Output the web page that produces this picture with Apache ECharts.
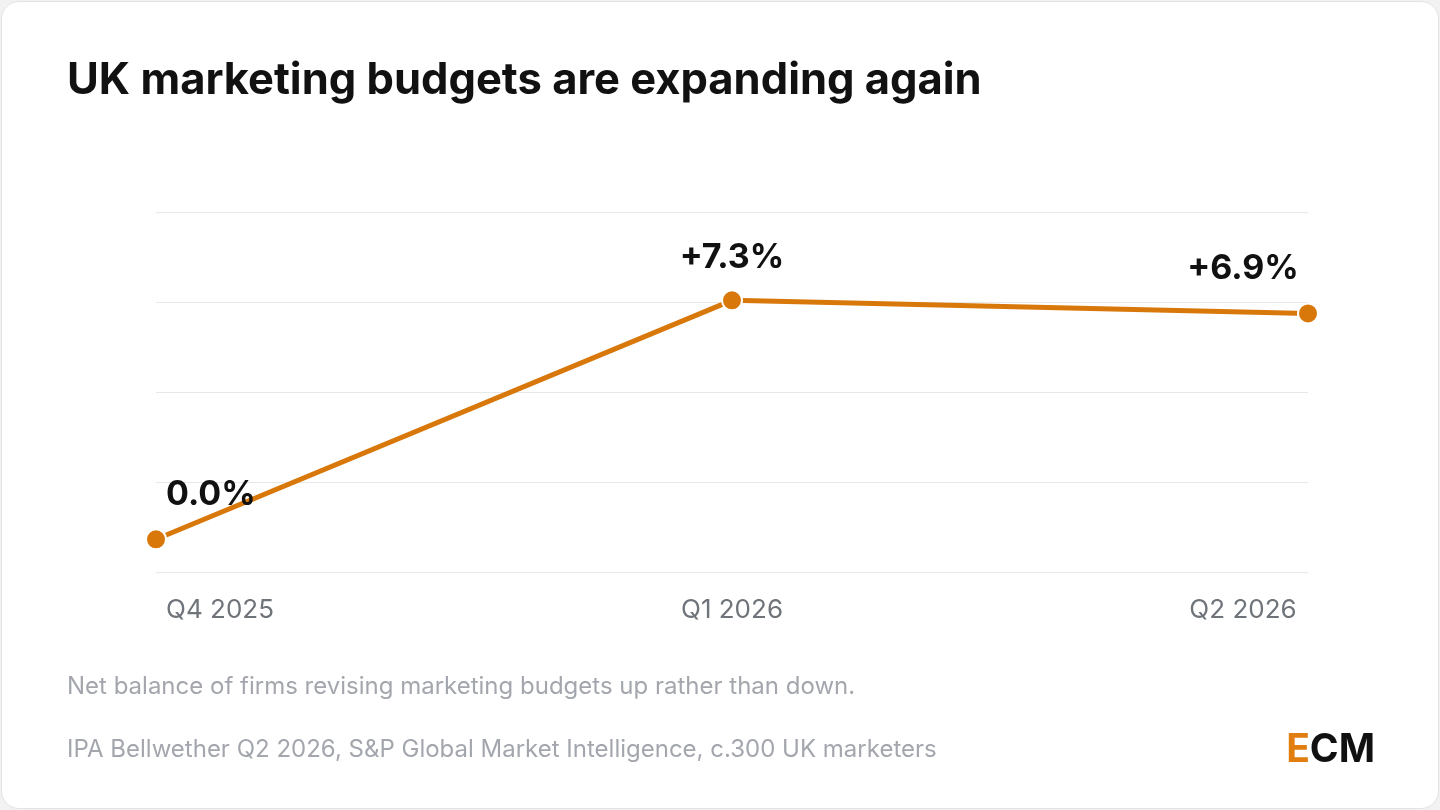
<!DOCTYPE html>
<html><head><meta charset="utf-8">
<script src="https://cdn.jsdelivr.net/npm/echarts@6/dist/echarts.min.js"></script>
<style>
html,body{margin:0;padding:0;background:#f2f2f2;width:1440px;height:810px;overflow:hidden;font-family:Inter,sans-serif}
#card{position:absolute;left:1px;top:1px;width:1436px;height:806px;background:#fff;border:1px solid #e3e3e3;border-radius:18px}
#chart{position:absolute;left:0;top:0;width:1440px;height:810px}
</style></head><body>
<div id="card"></div>
<div id="chart"></div>
<script>
const categories = ['Q4 2025', 'Q1 2026', 'Q2 2026'];
const values = [0.0, 7.3, 6.9];
const valueLabels = ['0.0%', '+7.3%', '+6.9%'];
const title = 'UK marketing budgets are expanding again';
const note = 'Net balance of firms revising marketing budgets up rather than down.';
const source = 'IPA Bellwether Q2 2026, S&P Global Market Intelligence, c.300 UK marketers';

const labelPos = [
  {position: 'right', offset: [-6, -44], align: 'left'},
  {position: 'top', offset: [0, -10]},
  {position: 'top', offset: [-65, -12]}
];
const chart = echarts.init(document.getElementById('chart'));
chart.setOption({
  animation: false,
  textStyle: {fontFamily: 'Inter'},
  graphic: [
    {type: 'text', left: 67, top: 59, style: {text: title, font: 'bold 43.5px Inter', fill: '#111'}},
    {type: 'text', left: 67, top: 675, style: {text: note, font: '24px Inter', fill: '#a3a7ad'}},
    {type: 'text', left: 67, top: 738, style: {text: source, font: '24px Inter', fill: '#a3a7ad'}},
    {type: 'text', right: 65, top: 731, style: {rich: {e: {fill: '#e07f10', font: 'bold 39px Inter'}, c: {fill: '#111', font: 'bold 39px Inter'}}, text: '{e|E}{c|CM}'}}
  ],
  grid: {left: 156, right: 132, top: 212, bottom: 238},
  xAxis: {
    type: 'category', data: categories, boundaryGap: false,
    axisLine: {show: false}, axisTick: {show: false},
    axisLabel: {
      color: '#6f747b', fontSize: 26, margin: 25, fontFamily: 'Inter',
      formatter: (v, i) => i === 0 ? '{l|' + v + '}' : i === 2 ? '{r|' + v + '}' : v,
      rich: {l: {color: '#6f747b', fontSize: 26, padding: [0, 0, 0, 128]}, r: {color: '#6f747b', fontSize: 26, padding: [0, 130, 0, 0]}}
    }
  },
  yAxis: {
    type: 'value', min: -1, max: 10, interval: 2.75,
    axisLabel: {show: false}, axisLine: {show: false}, axisTick: {show: false},
    splitLine: {lineStyle: {color: '#e8e8e8', width: 1}}
  },
  series: [{
    type: 'line', symbol: 'circle', symbolSize: 20,
    lineStyle: {color: '#d9780a', width: 5},
    itemStyle: {color: '#d9780a', borderColor: '#fff', borderWidth: 2},
    data: values.map((v, i) => ({
      value: v,
      label: Object.assign({show: true, formatter: valueLabels[i], fontSize: 34, fontWeight: 'bold', color: '#111', fontFamily: 'Inter'}, labelPos[i])
    }))
  }]
});
</script>
</body></html>
